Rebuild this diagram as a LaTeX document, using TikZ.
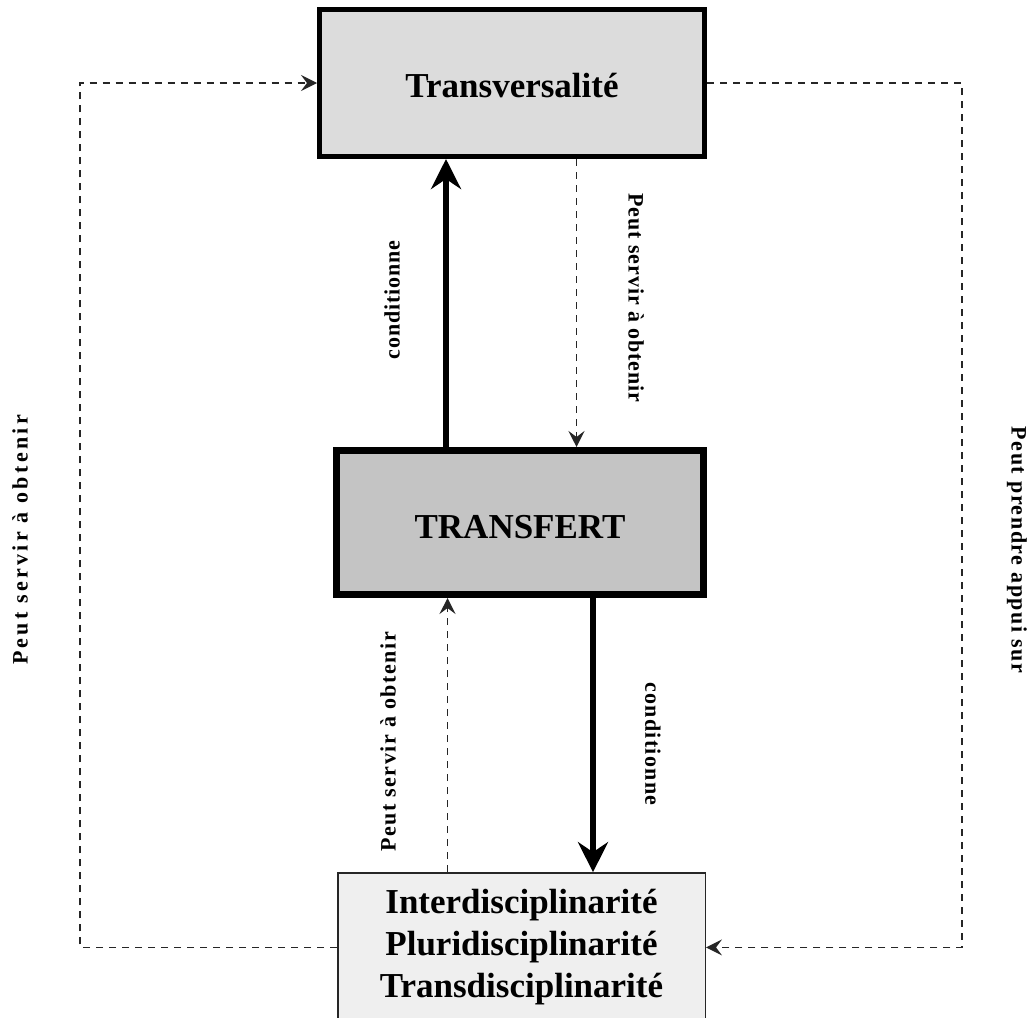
\documentclass[tikz,border=0pt]{standalone}
\usepackage{fontspec}
\setmainfont{Liberation Serif}
\usetikzlibrary{arrows.meta}

\definecolor{filltop}{HTML}{DCDCDC}
\definecolor{fillmid}{HTML}{C4C4C4}
\definecolor{filllow}{HTML}{EFEFEF}
\definecolor{dashgray}{HTML}{262626}

\tikzset{
  mainfont/.style={font=\fontsize{35}{40}\selectfont\bfseries},
  conceptbox/.style={rectangle, draw=black, inner sep=0pt, mainfont},
  thickarrow/.style={line width=6pt,
    -{Stealth[length=30pt, width=30pt, inset=10pt]}},
  dasharrow/.style={draw=dashgray, line width=1.5pt,
    dash pattern=on 7pt off 6pt,
    -{Stealth[length=16pt, width=16pt, inset=6pt]}},
  lbl/.style={inner sep=0pt,
    font=\fontsize{22}{24}\selectfont\bfseries\addfontfeature{LetterSpace=#1}},
  lbl/.default=4,
}

\begin{document}
\begin{tikzpicture}[x=1pt, y=-1pt]
  \useasboundingbox (0,0) rectangle (1032,1017);
  \clip (0,0) rectangle (1032,1017);

  % the three concept boxes
  \node[conceptbox, fill=filltop, line width=5pt,
        minimum width=385pt, minimum height=147pt,
        text height=28.5pt, text depth=0pt]
    (trans) at (512,83) {Transversalité};
  \node[conceptbox, fill=fillmid, line width=7pt,
        minimum width=367pt, minimum height=144pt,
        text height=32.5pt, text depth=0pt]
    (transfert) at (520,522.5) {TRANSFERT};
  \node[conceptbox, fill=filllow, draw=dashgray, line width=1.5pt,
        minimum width=367.5pt, minimum height=149pt]
    (inter) at (521.5,947.4) {};
  \node[mainfont, anchor=base, inner sep=0pt] (l1) at (521.5,913) {Interdisciplinarité};
  \node[mainfont, anchor=base, inner sep=0pt] (l2) at (521.5,955) {Pluridisciplinarité};
  \node[mainfont, anchor=base, inner sep=0pt] (l3) at (521.5,997) {Transdisciplinarité};

  % solid "conditionne" arrows
  \draw[thickarrow] ([xshift=-74pt]transfert.north)
    -- ([xshift=-74pt]transfert.north |- trans.south);
  \draw[thickarrow] ([xshift=73pt]transfert.south)
    -- ([xshift=73pt]transfert.south |- inter.north);

  % dashed "peut servir" arrows between neighbouring boxes
  \draw[dasharrow] ([xshift=64.5pt]trans.south)
    -- ([xshift=64.5pt]trans.south |- transfert.north);
  \draw[dasharrow] ([xshift=-74pt]inter.north)
    -- ([xshift=-74pt]inter.north |- transfert.south);

  % outer dashed loops
  \draw[dasharrow] (inter.west) -- ++(-257,0) |- (trans.west);
  \draw[dasharrow] (trans.east) -- ++(255,0) |- (inter.east);

  % labels
  \node[lbl=4, rotate=90]  (c1) at (392,300) {conditionne};
  \node[lbl=6, rotate=-90] (c2) at (653,744) {conditionne};
  \node[lbl=4, rotate=-90] (p1) at (636,298) {Peut servir à obtenir};
  \node[lbl=7, rotate=90]  (p2) at (388,742) {Peut servir à obtenir};
  \node[lbl=15, rotate=90] (p3) at (20,540) {Peut servir à obtenir};
  \node[lbl=7, rotate=-90] (p4) at (1017,550) {Peut prendre appui sur};
\end{tikzpicture}
\end{document}
